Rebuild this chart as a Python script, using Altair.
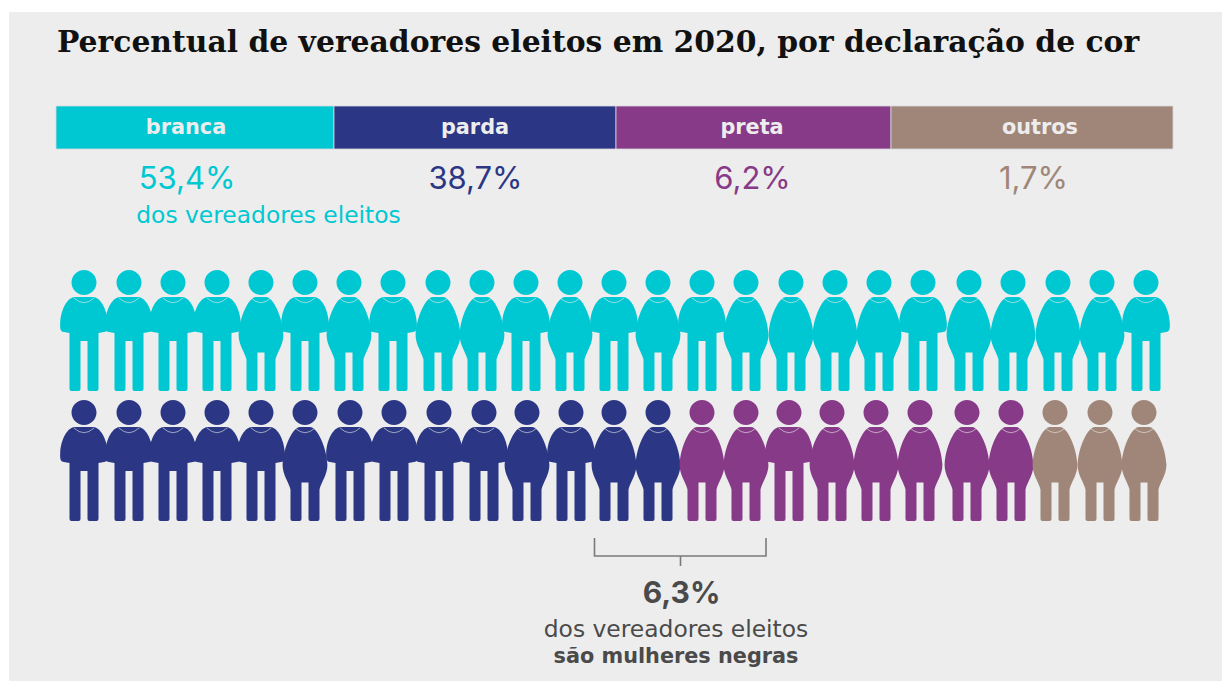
import altair as alt
import pandas as pd

BG = "#EDEDED"
TEAL, NAVY, PURPLE, BROWN = "#00C8D2", "#2B3784", "#873A87", "#A08678"
GREY = "#4A4A4A"

TITLE = "Percentual de vereadores eleitos em 2020, por declaração de cor"
categories = ["branca", "parda", "preta", "outros"]
percent_labels = ["53,4%", "38,7%", "6,2%", "1,7%"]
category_colors = [TEAL, NAVY, PURPLE, BROWN]
bar_edges = [56, 334, 616, 891, 1173]
percent_x = [187, 475.5, 752.5, 1033.5]
top_x = [84, 129, 173, 217, 261, 305, 349, 393, 438, 482, 526, 570, 614, 658,
         702, 746, 791, 835, 879, 923, 969, 1013, 1058, 1102, 1146]
bottom_x = [84, 129, 173, 217, 261, 305, 350, 394, 439, 484, 527, 571, 614, 658,
            702, 746, 789, 832, 876, 920, 967, 1011, 1055, 1100, 1144]
row_y = [330.5, 460.5]
top_kinds = "mmmmwmwmwwmwmwmwwwwmwwwwm"
bottom_kinds = "mmmmmwmmmmwmwwwwmwwwwwwww"
bottom_colors = [NAVY] * 14 + [PURPLE] * 8 + [BROWN] * 3

UNIT = 60.5


def p(*pairs):
    return " ".join(f"{x / UNIT:.4f},{y / UNIT:.4f}" for x, y in pairs)


HEAD = (f"M{p((-12.5, -48))} A{12.5 / UNIT:.4f},{12.5 / UNIT:.4f} 0 1 1 {p((12.5, -48))} "
        f"A{12.5 / UNIT:.4f},{12.5 / UNIT:.4f} 0 1 1 {p((-12.5, -48))} Z ")
LEGS = (f"L{p((14.5, 58.5))} Q{p((14.5, 60.5))} {p((12.5, 60.5))} L{p((5.5, 60.5))} "
        f"Q{p((3.5, 60.5))} {p((3.5, 58.5))} ")
MAN = HEAD + (
    f"M{p((-9, -33.5))} L{p((9, -33.5))} C{p((16, -33.5))} {p((23, -22))} {p((23.8, -8))} "
    f"C{p((24, -2))} {p((24, 1))} {p((20, 1.5))} L{p((14.5, 2.5))} " + LEGS +
    f"L{p((3.5, 10.5))} L{p((-3.5, 10.5))} L{p((-3.5, 58.5))} Q{p((-3.5, 60.5))} {p((-5.5, 60.5))} "
    f"L{p((-12.5, 60.5))} Q{p((-14.5, 60.5))} {p((-14.5, 58.5))} L{p((-14.5, 2.5))} L{p((-20, 1.5))} "
    f"C{p((-24, 1))} {p((-24, -2))} {p((-23.8, -8))} C{p((-23, -22))} {p((-16, -33.5))} {p((-9, -33.5))} Z"
)
WOMAN = HEAD + (
    f"M{p((-5, -33.5))} L{p((5, -33.5))} C{p((12, -33.5))} {p((21.5, -14))} {p((22.4, 4))} "
    f"C{p((22.6, 14))} {p((16.5, 21))} {p((14.5, 29))} " + LEGS +
    f"L{p((3.5, 22))} L{p((-3.5, 22))} L{p((-3.5, 58.5))} Q{p((-3.5, 60.5))} {p((-5.5, 60.5))} "
    f"L{p((-12.5, 60.5))} Q{p((-14.5, 60.5))} {p((-14.5, 58.5))} L{p((-14.5, 29))} "
    f"C{p((-16.5, 21))} {p((-22.6, 14))} {p((-22.4, 4))} C{p((-21.5, -14))} {p((-12, -33.5))} {p((-5, -33.5))} Z"
)
COLLAR = f"M{p((-10, -32.5))} Q{p((0, -23))} {p((10, -32.5))}"

people = []
for y, xs, kinds, colors in [(row_y[0], top_x, top_kinds, [TEAL] * 25),
                             (row_y[1], bottom_x, bottom_kinds, bottom_colors)]:
    for x, k, c in zip(xs, kinds, colors):
        people.append({"x": x, "y": y, "kind": k, "color": c})
people = pd.DataFrame(people)

X = alt.X("x:Q", scale=alt.Scale(domain=[8, 1222]), axis=None)
Y = alt.Y("y:Q", scale=alt.Scale(domain=[681, 8]), axis=None)

background = alt.Chart(pd.DataFrame({"x": [9], "x2": [1222], "y": [12], "y2": [681]})).mark_rect(
    color=BG).encode(X, x2="x2:Q", y=Y, y2="y2:Q")

bars = alt.Chart(pd.DataFrame({
    "x": bar_edges[:-1], "x2": bar_edges[1:], "y": [106] * 4, "y2": [149] * 4,
    "color": category_colors})).mark_rect(stroke="#D8D8E0", strokeWidth=0.8).encode(
    X, x2="x2:Q", y=Y, y2="y2:Q", fill=alt.Fill("color:N", scale=None))

bar_text = alt.Chart(pd.DataFrame({
    "x": [186, 475, 752, 1040], "y": [128] * 4, "t": categories})).mark_text(
    font="DejaVu Sans", fontSize=20.8, fontWeight="bold", color="#EDEDED").encode(X, Y, text="t:N")

pct_text = alt.Chart(pd.DataFrame({
    "x": percent_x, "y": [179.5] * 4, "t": percent_labels, "color": category_colors})).mark_text(
    font="Inter", fontSize=31).encode(X, Y, text="t:N", color=alt.Color("color:N", scale=None))

dos_text = alt.Chart(pd.DataFrame({"x": [268.5], "y": [216], "t": ["dos vereadores eleitos"]})).mark_text(
    font="DejaVu Sans", fontSize=23.4, color=TEAL).encode(X, Y, text="t:N")

title = alt.Chart(pd.DataFrame({"x": [57], "y": [43], "t": [TITLE]})).mark_text(
    font="DejaVu Serif", fontSize=29.8, fontWeight="bold", color="#111111", align="left").encode(X, Y, text="t:N")

shape = alt.Shape("kind:N", scale=alt.Scale(domain=["m", "w"], range=[MAN, WOMAN]), legend=None)
figures = alt.Chart(people).mark_point(filled=True, opacity=1, size=(2 * UNIT) ** 2, strokeWidth=0).encode(
    X, Y, shape=shape, fill=alt.Fill("color:N", scale=None))
collars = alt.Chart(people).mark_point(
    filled=False, opacity=0.6, size=(2 * UNIT) ** 2, strokeWidth=1, stroke="#EDEDED", shape=COLLAR
).encode(X, Y)

bracket = alt.Chart(pd.DataFrame({
    "x": [594.5, 594.5, 766, 766, 680.5, 680.5],
    "y": [538, 556, 556, 538, 556, 566],
    "part": ["a", "a", "a", "a", "b", "b"],
    "o": [0, 1, 2, 3, 0, 1]})).mark_line(color="#7A7A7A", strokeWidth=1.6).encode(
    X, Y, detail="part:N", order="o:Q")

note1 = alt.Chart(pd.DataFrame({"x": [681.5], "y": [594], "t": ["6,3%"]})).mark_text(
    font="Inter", fontSize=30, fontWeight="bold", color=GREY).encode(X, Y, text="t:N")
note2 = alt.Chart(pd.DataFrame({"x": [676], "y": [630], "t": ["dos vereadores eleitos"]})).mark_text(
    font="DejaVu Sans", fontSize=23.4, color=GREY).encode(X, Y, text="t:N")
note3 = alt.Chart(pd.DataFrame({"x": [676], "y": [657], "t": ["são mulheres negras"]})).mark_text(
    font="DejaVu Sans", fontSize=20.8, fontWeight="bold", color=GREY).encode(X, Y, text="t:N")

chart = alt.layer(background, title, bars, bar_text, pct_text, dos_text, figures, collars,
                  bracket, note1, note2, note3).properties(
    width=1214, height=673, padding=0, background="white",
    autosize=alt.AutoSizeParams(type="none")
).configure_view(stroke=None)

chart.save("out.html", embed_options={"renderer": "svg", "actions": False})
